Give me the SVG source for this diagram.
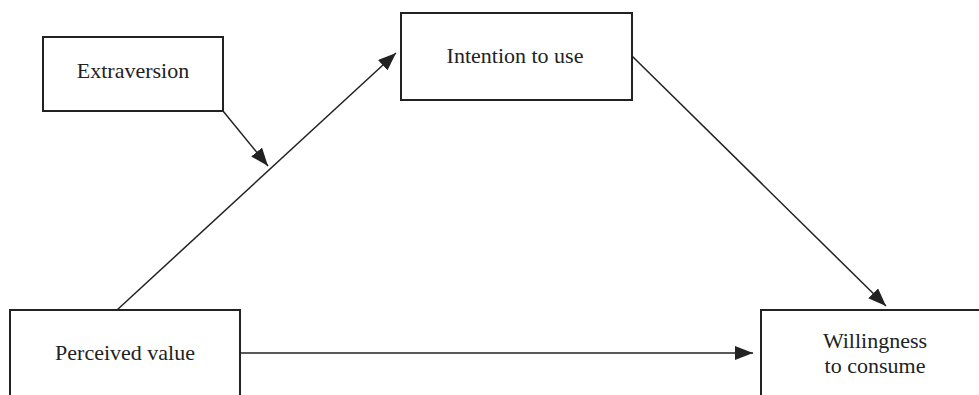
<svg xmlns="http://www.w3.org/2000/svg" width="979" height="395" viewBox="0 0 979 395">
<style>
.box{fill:#fff;stroke:#222;stroke-width:2}
.lbl{font-family:"Liberation Serif","Times New Roman",serif;font-size:22px;fill:#222;text-anchor:middle}
.edge{stroke:#222;stroke-width:1.5;fill:none;marker-end:url(#ah)}
</style>
<defs>
<marker id="ah" markerUnits="userSpaceOnUse" markerWidth="20" markerHeight="14" refX="18" refY="7" orient="auto">
<path d="M0,0 L18,7 L0,14 Z" fill="#222"/>
</marker>
</defs>
<rect width="979" height="395" fill="#fff"/>
<g id="connectors">
<line class="edge" x1="117" y1="310" x2="396" y2="53"/>
<line class="edge" x1="223" y1="111" x2="268" y2="166"/>
<line class="edge" x1="632" y1="56" x2="886" y2="306"/>
<line class="edge" x1="240" y1="353" x2="753" y2="353"/>
</g>
<g id="extraversion">
<rect class="box" x="43" y="37" width="180" height="74"/>
<text class="lbl" x="133" y="78">Extraversion</text>
</g>
<g id="intention">
<rect class="box" x="401" y="13" width="231" height="87"/>
<text class="lbl" x="515" y="63">Intention to use</text>
</g>
<g id="perceived">
<rect class="box" x="10" y="310" width="230" height="100"/>
<text class="lbl" x="125" y="360">Perceived value</text>
</g>
<g id="willingness">
<rect class="box" x="761" y="310" width="240" height="100"/>
<text class="lbl" x="875" y="348">Willingness</text>
<text class="lbl" x="875" y="373">to consume</text>
</g>
</svg>
